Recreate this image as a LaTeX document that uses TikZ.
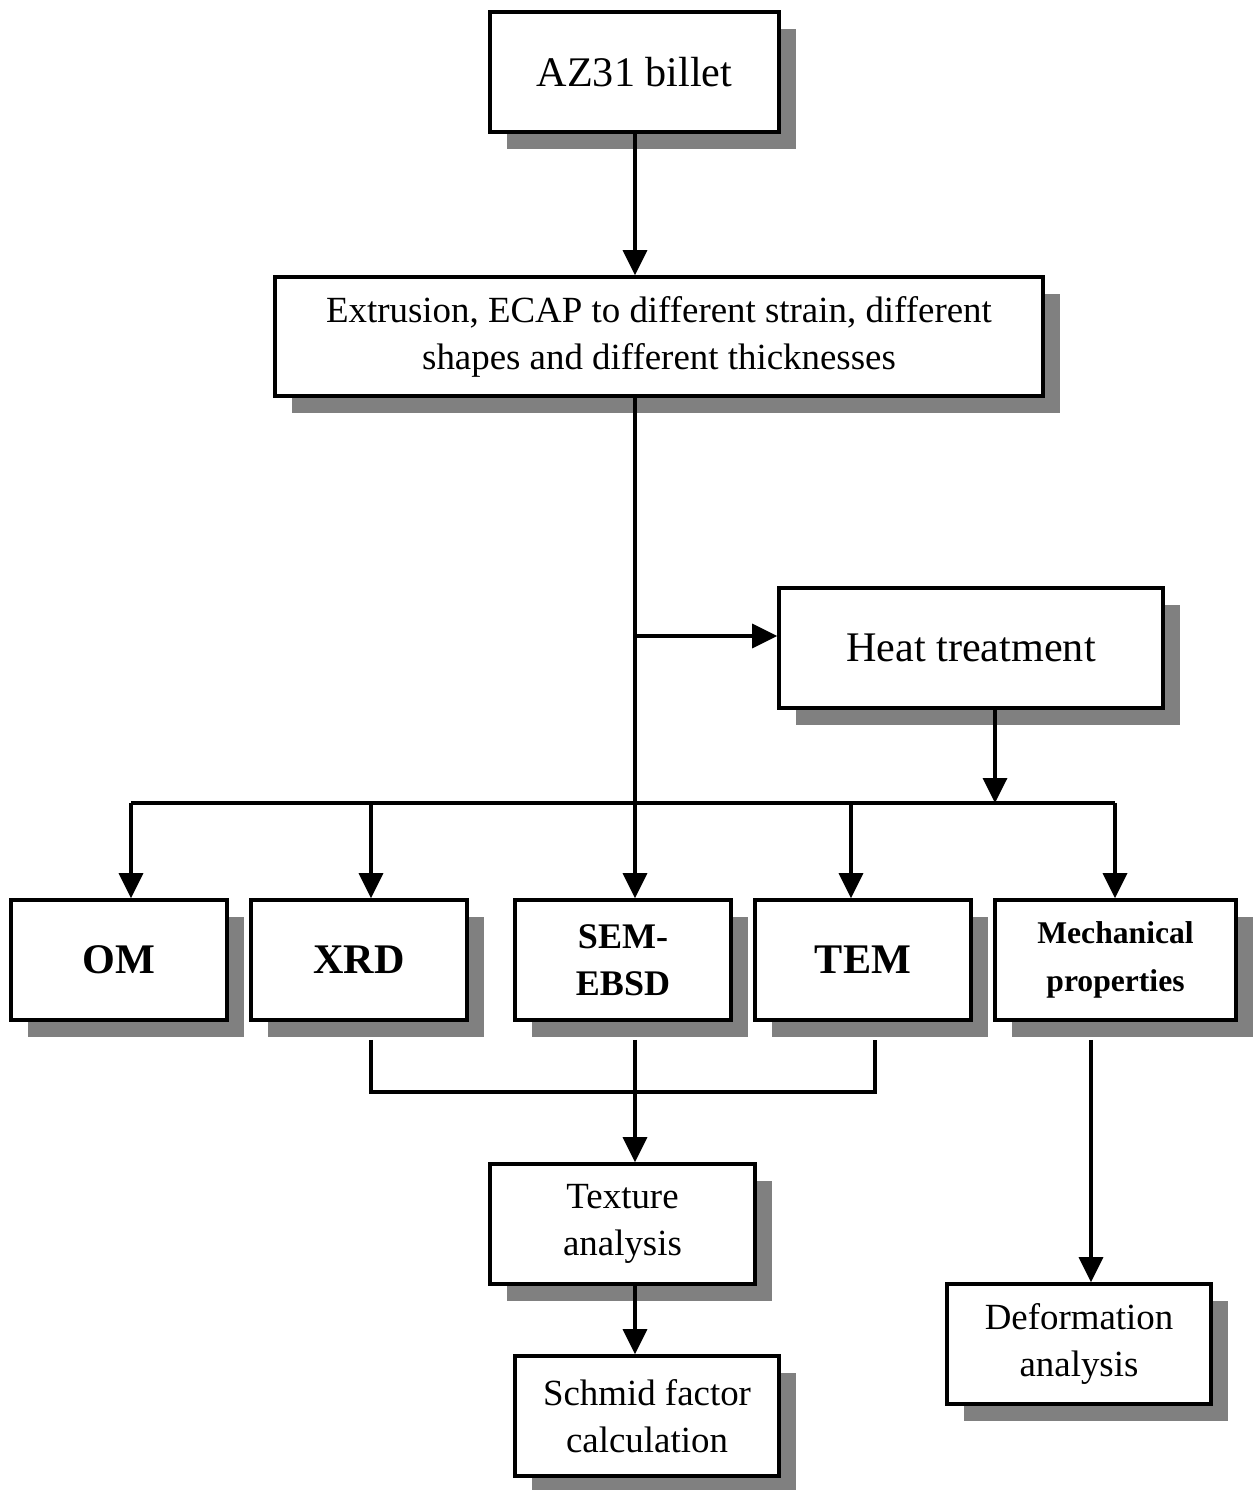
\documentclass[tikz,border=0pt]{standalone}
\usepackage{fontspec}
\setmainfont{Liberation Serif}
\usetikzlibrary{arrows.meta,shadows}
\begin{document}
\begin{tikzpicture}[x=0.02cm,y=-0.02cm,
  box/.style={draw=black, line width=2.1pt, fill=white, inner sep=0pt, align=center,
    drop shadow={shadow xshift=0.34cm, shadow yshift=-0.34cm, shadow scale=1, opacity=1, fill=black!50}},
  conn/.style={line width=2pt},
  arr/.style={conn, -{Triangle[length=0.5cm,width=0.48cm]}},
  bigtxt/.style={font=\fontsize{24}{29}\selectfont},
  midtxt/.style={font=\fontsize{21}{26.8}\selectfont},
  boldtxt/.style={font=\fontsize{24}{29}\selectfont\bfseries},
]
\useasboundingbox (0,0) rectangle (1256,1490);

\node[box, bigtxt, minimum width=5.78cm, minimum height=2.4cm] (az) at (634.5,72) {AZ31 billet};
\node[box, midtxt, minimum width=15.36cm, minimum height=2.38cm] (ext) at (659,336.5)
  {\rule{0pt}{8pt}Extrusion, ECAP to different strain, different\\shapes and different thicknesses};
\node[box, bigtxt, minimum width=7.68cm, minimum height=2.4cm] (heat) at (971,648) {Heat treatment};

\node[box, boldtxt, minimum width=4.32cm, minimum height=2.4cm] (om) at (119,960) {OM};
\node[box, boldtxt, minimum width=4.32cm, minimum height=2.4cm] (xrd) at (359,960) {XRD};
\node[box, font=\fontsize{20.5}{26.8}\selectfont\bfseries, minimum width=4.32cm, minimum height=2.4cm] (sem) at (623,960) {SEM-\\EBSD};
\node[box, boldtxt, minimum width=4.32cm, minimum height=2.4cm] (tem) at (863,960) {TEM};
\node[box, font=\fontsize{18}{27}\selectfont\bfseries, minimum width=4.82cm, minimum height=2.4cm] (mech) at (1115.5,960) {Mechanical\\properties};

\node[box, midtxt, minimum width=5.3cm, minimum height=2.4cm] (tex) at (622.5,1224) {Texture\\analysis};
\node[box, midtxt, minimum width=5.28cm, minimum height=2.4cm] (sch) at (647,1416) {Schmid factor\\calculation};
\node[box, midtxt, minimum width=5.28cm, minimum height=2.4cm] (def) at (1079,1344) {Deformation\\analysis};

% helper coordinates
\coordinate (tx) at (635,0);
\coordinate (br) at (635,636);
\coordinate (hb) at (995,803);
\coordinate (busL) at (131,803);
\coordinate (busR) at (1115,803);
\coordinate (bx) at (371,803);
\coordinate (bt) at (851,803);
\coordinate (cx) at (371,1092);
\coordinate (ct) at (875,1092);
\coordinate (mx) at (1091,0);
\coordinate (xs) at ([yshift=-0.36cm]xrd.south);
\coordinate (ss) at ([yshift=-0.36cm]sem.south);
\coordinate (ts) at ([yshift=-0.36cm]tem.south);
\coordinate (ms) at ([yshift=-0.36cm]mech.south);

\draw[arr] (az.south -| tx) -- (ext.north -| tx);
\draw[arr] (ext.south -| tx) -- (sem.north -| tx);
\draw[arr] (br) -- (br -| heat.west);
\draw[arr] (heat.south -| hb) -- (hb);
\draw[conn] (busL) -- (busR);
\draw[arr] (busL) -- (busL |- om.north);
\draw[arr] (bx) -- (bx |- xrd.north);
\draw[arr] (bt) -- (bt |- tem.north);
\draw[arr] (busR) -- (busR |- mech.north);
\draw[conn] (xs -| cx) -- (cx) -- (ct) -- (ts -| ct);
\draw[arr] (ss -| tx) -- (tex.north -| tx);
\draw[arr] (tex.south -| tx) -- (sch.north -| tx);
\draw[arr] (ms -| mx) -- (def.north -| mx);
\end{tikzpicture}
\end{document}
